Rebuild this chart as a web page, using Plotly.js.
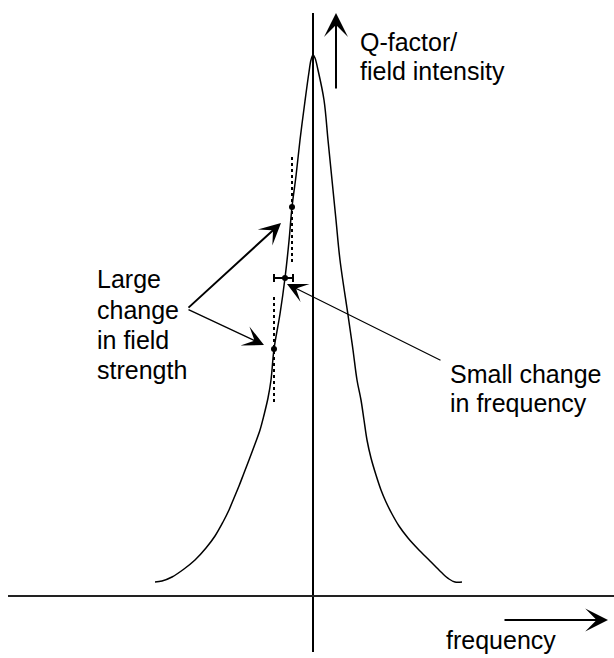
<!DOCTYPE html>
<html>
<head>
<meta charset="utf-8">
<script src="https://cdn.plot.ly/plotly-3.0.1.min.js"></script>
<style>html,body{margin:0;padding:0;background:#fff;}#chart{width:614px;height:658px;}</style>
</head>
<body>
<div id="chart"></div>
<script>
// Resonance curve: frequency offset (x) vs field intensity (y)
var curveFreq = [-158,-151,-141,-129,-118,-107,-98,-90,-84,-79,-74,-69,-64,-58,-53,-49,-45,-42,-39,-33,-28,-24,-21,-17,-13,-8,-4,-2,0,
                 2,5,11,15,19,23,27,35,40,44,48,51,54,58,63,68,73,79,86,95,105,117,128,136,142,149];
var curveIntensity = [14,15,19,27,36,48,60,74,86,98,110,123,136,152,166,181,198,216,247,282,318,355,389,420,456,495,524,536,541,
                      538,526,496,456,416,376,336,281,246,216,196,176,156,138,121,106,94,82,70,58,47,35,24,17,14,14];

// Operating points on the flank
var pointFreq = [-21, -28, -39];
var pointIntensity = [389, 318, 247];

// Small frequency change around middle point
var freqErrPlus = [8];
var freqErrMinus = [11];

// Dotted field-strength markers [freq, intensityStart, intensityEnd]
var upperDotted = [-21, 439, 334];
var lowerDotted = [-39, 299, 193];

// Axis lines
var vAxisFreq = [0, 0];
var vAxisIntensity = [583, -56];
var hAxisFreq = [-305, 301];
var hAxisIntensity = [0, 0];

// Arrows: [tailFreq, tailIntensity, tipFreq, tipIntensity]
var arrowQ = [23, 506, 23, 583];
var arrowFreq = [190, -24, 295, -24];
var arrowLargeUp = [-126, 287, -32, 373];
var arrowLargeDown = [-126, 287, -49, 251];
var arrowSmall = [129, 235, -26, 312];

// Labels: [text, freq, intensity]
var labels = [
  ["Q-factor/", 45, 554],
  ["field intensity", 45, 525],
  ["Large", -218, 317],
  ["change", -218, 286],
  ["in field", -218, 256],
  ["strength", -218, 226],
  ["Small change", 135, 222],
  ["in frequency", 135, 193],
  ["frequency", 131, -44]
];

var FONT = "Liberation Sans, Arial, Helvetica, sans-serif";

var traces = [
  {x: vAxisFreq, y: vAxisIntensity, mode: 'lines', line: {color: '#000', width: 2}},
  {x: hAxisFreq, y: hAxisIntensity, mode: 'lines', line: {color: '#222', width: 2}},
  {x: curveFreq, y: curveIntensity, mode: 'lines', line: {color: '#000', width: 1.5, shape: 'spline', smoothing: 1}},
  {x: [upperDotted[0], upperDotted[0]], y: [upperDotted[1], upperDotted[2]], mode: 'lines', line: {color: '#000', width: 2, dash: 'dot'}},
  {x: [lowerDotted[0], lowerDotted[0]], y: [lowerDotted[1], lowerDotted[2]], mode: 'lines', line: {color: '#000', width: 2, dash: 'dot'}},
  {x: [pointFreq[1]], y: [pointIntensity[1]], mode: 'markers', marker: {color: '#000', size: 6},
   error_x: {type: 'data', symmetric: false, array: freqErrPlus, arrayminus: freqErrMinus, color: '#000', thickness: 2, width: 4}},
  {x: [pointFreq[0], pointFreq[2]], y: [pointIntensity[0], pointIntensity[2]], mode: 'markers', marker: {color: '#000', size: 6}}
];

function arrow(a, w, size) {
  return {x: a[2], y: a[3], ax: a[0], ay: a[1], xref: 'x', yref: 'y', axref: 'x', ayref: 'y',
          text: '', showarrow: true, arrowhead: 3, arrowsize: size, arrowwidth: w, arrowcolor: '#000', standoff: 0};
}

var annotations = [
  arrow(arrowQ, 2, 2),
  arrow(arrowFreq, 2, 1.9),
  arrow(arrowLargeUp, 2, 1.8),
  arrow(arrowLargeDown, 1.4, 2.5),
  arrow(arrowSmall, 1.2, 2.8)
];
labels.forEach(function (l) {
  annotations.push({x: l[1], y: l[2], xref: 'x', yref: 'y', text: l[0], showarrow: false,
                    xanchor: 'left', yanchor: 'middle', font: {family: FONT, size: 25, color: '#000'}});
});

var layout = {
  width: 614, height: 658,
  margin: {l: 0, r: 0, t: 0, b: 0},
  paper_bgcolor: '#fff', plot_bgcolor: '#fff',
  showlegend: false,
  xaxis: {range: [-313, 301], visible: false, fixedrange: true},
  yaxis: {range: [-62, 596], visible: false, fixedrange: true},
  annotations: annotations
};

Plotly.newPlot('chart', traces, layout, {staticPlot: true, displayModeBar: false});
</script>
</body>
</html>
